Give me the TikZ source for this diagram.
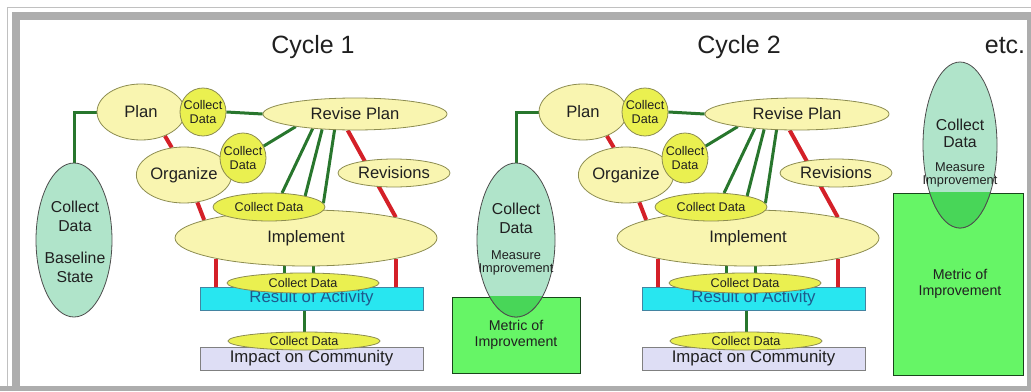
\documentclass[tikz,border=0pt]{standalone}
\usepackage{fontspec}
\setmainfont{Liberation Sans}
\usetikzlibrary{shapes.geometric,backgrounds}
\definecolor{ylw}{RGB}{249,245,176}
\definecolor{ylwline}{RGB}{140,140,80}
\definecolor{cdfill}{RGB}{234,240,80}
\definecolor{gln}{RGB}{40,118,45}
\definecolor{rln}{RGB}{212,32,40}
\definecolor{tealfill}{RGB}{176,228,202}
\definecolor{metgreen}{RGB}{102,245,102}
\definecolor{ovl}{RGB}{72,214,88}
\definecolor{cyanbox}{RGB}{40,230,240}
\definecolor{resblue}{RGB}{30,90,140}
\definecolor{lav}{RGB}{222,222,245}
\definecolor{framegray}{RGB}{192,192,192}
\definecolor{ink}{RGB}{32,32,32}

\begin{document}
\begin{tikzpicture}[x=0.5pt,y=-0.5pt,
 yel/.style={ellipse,draw=ylwline,fill=ylw,inner sep=0pt,text=ink,font=\fontsize{8.3}{9.5}\selectfont},
 cdat/.style={ellipse,draw=ylwline,fill=cdfill,inner sep=0pt,text=ink,font=\fontsize{6.3}{7}\selectfont},
 cdsmall/.style={cdat,align=center,inner sep=-3pt},
 gline/.style={gln,line width=1.5pt},
 rline/.style={rln,line width=2pt},
 bar/.style={rectangle,inner sep=0pt,minimum width=111.5pt,minimum height=11.5pt,font=\fontsize{8.4}{9.5}\selectfont},
 tealell/.style={ellipse,draw=ink!80,fill=tealfill,inner sep=0pt},
 metric/.style={rectangle,draw=gln!60!black,fill=metgreen,inner sep=0pt},
 txt/.style={inner sep=0pt,text=ink,align=center},
 ttl/.style={inner sep=0pt,anchor=base,text=ink,font=\fontsize{12.5}{14}\selectfont}]
\useasboundingbox (0,0) rectangle (1031,391);

% frame
\begin{scope}[on background layer]
 \draw[framegray,line width=0.75pt] (7.5,391) |- (1031,7.5);
 \draw[framegray!90!black,line width=4pt] (15.5,391) |- (1031,15.5);
 \draw[framegray!90!black,line width=2.5pt] (0,388.5) -- (1031,388.5) (1029.5,15.5) -- (1029.5,391);
\end{scope}

\node[ttl] (cyc1) at (313,53) {Cycle 1};
\node[ttl] (cyc2) at (739,53) {Cycle 2};
\node[ttl] (etc) at (1005,53) {etc.};

% the two cycles
\foreach \c/\dx in {1/0,2/442}{
\begin{scope}[shift={(\dx,0)}]
 \node[yel,minimum width=44pt,minimum height=28pt] (plan\c) at (141,112) {Plan};
 \node[cdsmall,minimum width=23pt,minimum height=24pt] (cdp\c) at (203,112) {Collect\\Data};
 \node[yel,minimum width=92pt,minimum height=16pt] (rev\c) at (355,114) {Revise Plan};
 \node[yel,minimum width=46pt,minimum height=28pt] (org\c) at (184,175) {Organize};
 \node[cdsmall,minimum width=23pt,minimum height=25pt] (cdo\c) at (243,158) {Collect\\Data};
 \node[yel,minimum width=56pt,minimum height=14pt] (revs\c) at (394,173) {Revisions};
 \node[yel,minimum width=131pt,minimum height=28pt] (impl\c) at (306,238) {Implement};
 \node[cdat,minimum width=56pt,minimum height=14pt] (cdm\c) at (269,207) {Collect Data};
 \node[bar,draw=cyan!60!black,fill=cyanbox,text=resblue] (res\c) at (311.5,298.5) {Result of Activity};
 \node[cdat,minimum width=76pt,minimum height=10pt] (cdr\c) at (303,283) {Collect Data};
 \node[bar,draw=gray,fill=lav,text=ink] (imp\c) at (311.5,358.5) {Impact on Community};
 \node[cdat,minimum width=76pt,minimum height=9pt] (cdi\c) at (304,341) {Collect Data};
 \begin{scope}[on background layer]
  \draw[gline] (cdp\c.east) -- (rev\c.west);
  \draw[gline] (cdo\c.30) -- (rev\c.192);
  \draw[gline] (rev\c.199) -- (cdm\c.47);
  \draw[gline] (rev\c.205) -- (cdm\c.17);
  \draw[gline] (rev\c.218) -- (cdm\c.4);
  \draw[rline] (plan\c.315) -- (org\c.114);
  \draw[rline] (org\c.296) -- (impl\c.170);
  \draw[rline] (rev\c.246) -- (impl\c.13);
  \draw[rline] (impl\c.193) -- (impl\c.193 |- res\c.north);
  \draw[rline] (impl\c.347) -- (impl\c.347 |- res\c.north);
  \draw[gline] (cdr\c.152) -- (cdr\c.152 |- impl\c.south);
  \draw[gline] (cdr\c.45) -- (cdr\c.45 |- impl\c.south);
  \draw[gline] (cdi\c.north |- res\c.south) -- (cdi\c.north);
 \end{scope}
\end{scope}}

% baseline
\node[tealell,minimum width=38pt,minimum height=77pt] (base) at (74,240) {};
\node[txt,font=\fontsize{7.9}{9.5}\selectfont] (baseTxt) at (75,242) {Collect\\Data\\[6.5pt]Baseline\\State};

% measure after cycle 1
\node[metric,minimum width=64pt,minimum height=38pt] (met2) at (516,335) {};
\node[tealell,minimum width=39pt,minimum height=77pt] (mea2) at (516,240) {};
\begin{scope}
 \clip (met2.south west) rectangle (met2.north east);
 \fill[ovl,draw=ink!80] (mea2.center) ellipse [x radius=19.5pt,y radius=38.5pt];
\end{scope}
\node[txt,font=\fontsize{7.9}{9.5}\selectfont] (mea2Txt) at (516,218) {Collect\\Data};
\node[txt,font=\fontsize{6.4}{6.5}\selectfont] (mea2Sub) at (516,263) {Measure\\Improvement};
\node[txt,font=\fontsize{7.1}{8}\selectfont] (met2Txt) at (516,335) {Metric of\\Improvement};

% measure after cycle 2
\node[metric,minimum width=65pt,minimum height=91pt] (met3) at (958,284) {};
\node[tealell,minimum width=37pt,minimum height=83pt] (mea3) at (960,145) {};
\begin{scope}
 \clip (met3.south west) rectangle (met3.north east);
 \fill[ovl,draw=ink!80] (mea3.center) ellipse [x radius=18.5pt,y radius=41.5pt];
\end{scope}
\node[txt,font=\fontsize{7.9}{8.5}\selectfont] (mea3Txt) at (960,133) {Collect\\Data};
\node[txt,font=\fontsize{6.4}{6.5}\selectfont] (mea3Sub) at (960,175) {Measure\\Improvement};
\node[txt,font=\fontsize{7.1}{8}\selectfont] (met3Txt) at (960,284) {Metric of\\Improvement};

\begin{scope}[on background layer]
 \draw[gline] (plan1.west) -| (base.north);
 \draw[gline] (plan2.west) -| (mea2.north);
\end{scope}
\end{tikzpicture}
\end{document}
